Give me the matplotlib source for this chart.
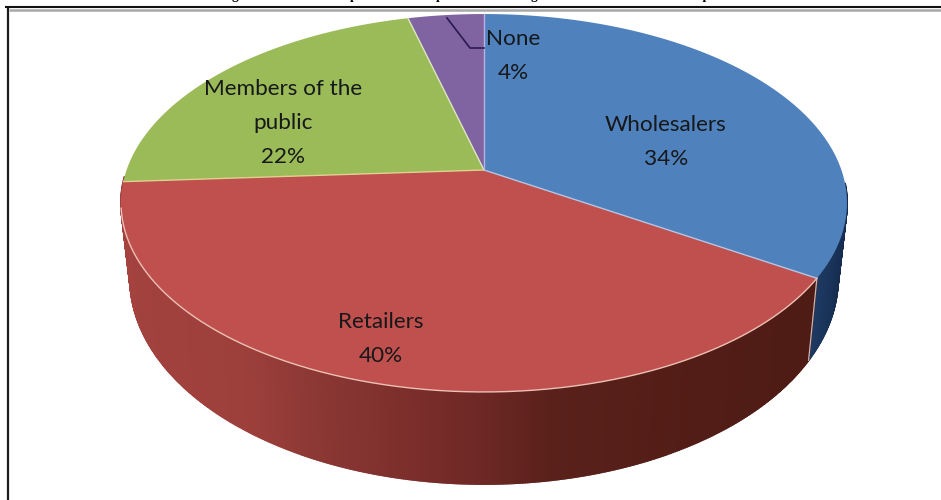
import numpy as np
import matplotlib
matplotlib.use("Agg")
import matplotlib.pyplot as plt

# Pie values, clockwise from twelve o'clock
categories = ['Wholesalers', 'Retailers', 'Members of the\npublic', 'None']
shares = [34, 40, 22, 4]

top_colors = ['#4f81bd', '#c0504d', '#9bbb59', '#8064a2']
seam_colors = ['#b4c4e4', '#e0d090', '#dce6c0', '#b8b4e0']

caption = "Figure 4.3: Those who purchase most products from a given farmer in the local area per season"

# Perspective of the tilted disc
cx, cy = 484, 170
span_x, span_y = 357.4, 183.2
tilt = 0.1746


def project(deg):
    t = np.radians(deg)
    w = 1 + tilt * np.cos(t)
    return span_x * np.sin(t) / w, span_y * np.cos(t) / -w


def rim_top(deg):
    x, y = project(deg)
    return cx + x, cy + y


def rim_bottom(deg):
    x, y = project(deg)
    return cx + 0.975 * x, 242.5 + 1.088 * y


# Shading of the side wall, by horizontal position
red_x = [120, 250, 300, 400, 480, 550, 700, 820]
red_rgb = np.array([[163, 66, 62], [156, 63, 59], [142, 57, 54], [125, 47, 44],
                    [110, 40, 37], [90, 33, 27], [82, 29, 22], [78, 27, 21]]) / 255
blue_x = [810, 850]
blue_rgb = np.array([[33, 62, 104], [20, 42, 76]]) / 255


def shade(x, xs, rgb):
    return [np.interp(x, xs, rgb[:, i]) for i in range(3)]


fig = plt.figure(figsize=(9.41, 5), dpi=100)
ax = fig.add_axes([0, 0, 1, 1])
ax.set_xlim(0, 941)
ax.set_ylim(500, 0)
ax.axis('off')

edges = np.cumsum([0] + shares) / sum(shares) * 360

# Side wall, painted from the back towards the front
wall = [(94, edges[1], blue_x, blue_rgb), (edges[1], 268, red_x, red_rgb)]
for start, stop, xs, rgb in wall:
    steps = np.linspace(start, stop, int((stop - start) * 3) + 2)
    for a, b in zip(steps[:-1], steps[1:]):
        x0, y0 = rim_top(a)
        x1, y1 = rim_top(b)
        x2, y2 = rim_bottom(b)
        x3, y3 = rim_bottom(a)
        c = shade((x0 + x1) / 2, xs, rgb)
        ax.fill([x0, x1, x2, x3], [y0, y1, y2, y3], color=c, lw=1.3, zorder=2)

# Seam between the blue and red walls
sx0, sy0 = rim_top(edges[1])
sx1, sy1 = rim_bottom(edges[1])
ax.plot([sx0, sx1], [sy0, sy1], color='#c9b4b0', lw=0.9, zorder=3)

# Top face of each slice
for i in range(len(shares)):
    angles = np.linspace(edges[i], edges[i + 1], 200)
    xs, ys = rim_top(angles)
    ax.fill(np.r_[cx, xs], np.r_[cy, ys], color=top_colors[i], lw=0, zorder=4)

# Light edges between the slices and along the front rim
for i in [1, 2, 3, 4]:
    x, y = rim_top(edges[i])
    ax.plot([cx, x], [cy, y], color=seam_colors[i - 1], lw=1.0, zorder=5)
front = np.linspace(edges[1], edges[2] - 8, 300)
ax.plot(*rim_top(front), color='#ecc0b4', lw=1.0, zorder=5)

# Leader line for the smallest slice
ax.plot([447, 470, 484], [18, 48, 48], color='#2a1a52', lw=1.2, zorder=6)

# Slice labels
label_xy = [(666, 125), (381, 322), (283, 89), (513, 39)]
for name, share, (x, y) in zip(categories, shares, label_xy):
    lines = name.split('\n') + [f'{share}%']
    for j, line in enumerate(lines):
        ax.text(x, y + j * 34, line, ha='center', va='center', family='Lato',
                fontsize=16.2, color='#16181a', zorder=7)

# Frame of the chart area
ax.plot([8.5, 8.5], [7.5, 500], color='#1c1c1c', lw=1.6, zorder=8, solid_capstyle='butt')
ax.plot([5, 941], [7, 7], color='#111111', lw=1.5, zorder=8, solid_capstyle='butt')
ax.plot([9, 941], [10, 10], color='#a8a8a8', lw=1.8, zorder=8, solid_capstyle='butt')

# Caption sits right at the top edge of the figure
ax.text(220, -1.2, caption, ha='left', va='baseline', family='Liberation Serif',
        weight='bold', fontsize=9.6, color='black', clip_on=True, zorder=8)

fig.savefig('out.png', dpi=100)
